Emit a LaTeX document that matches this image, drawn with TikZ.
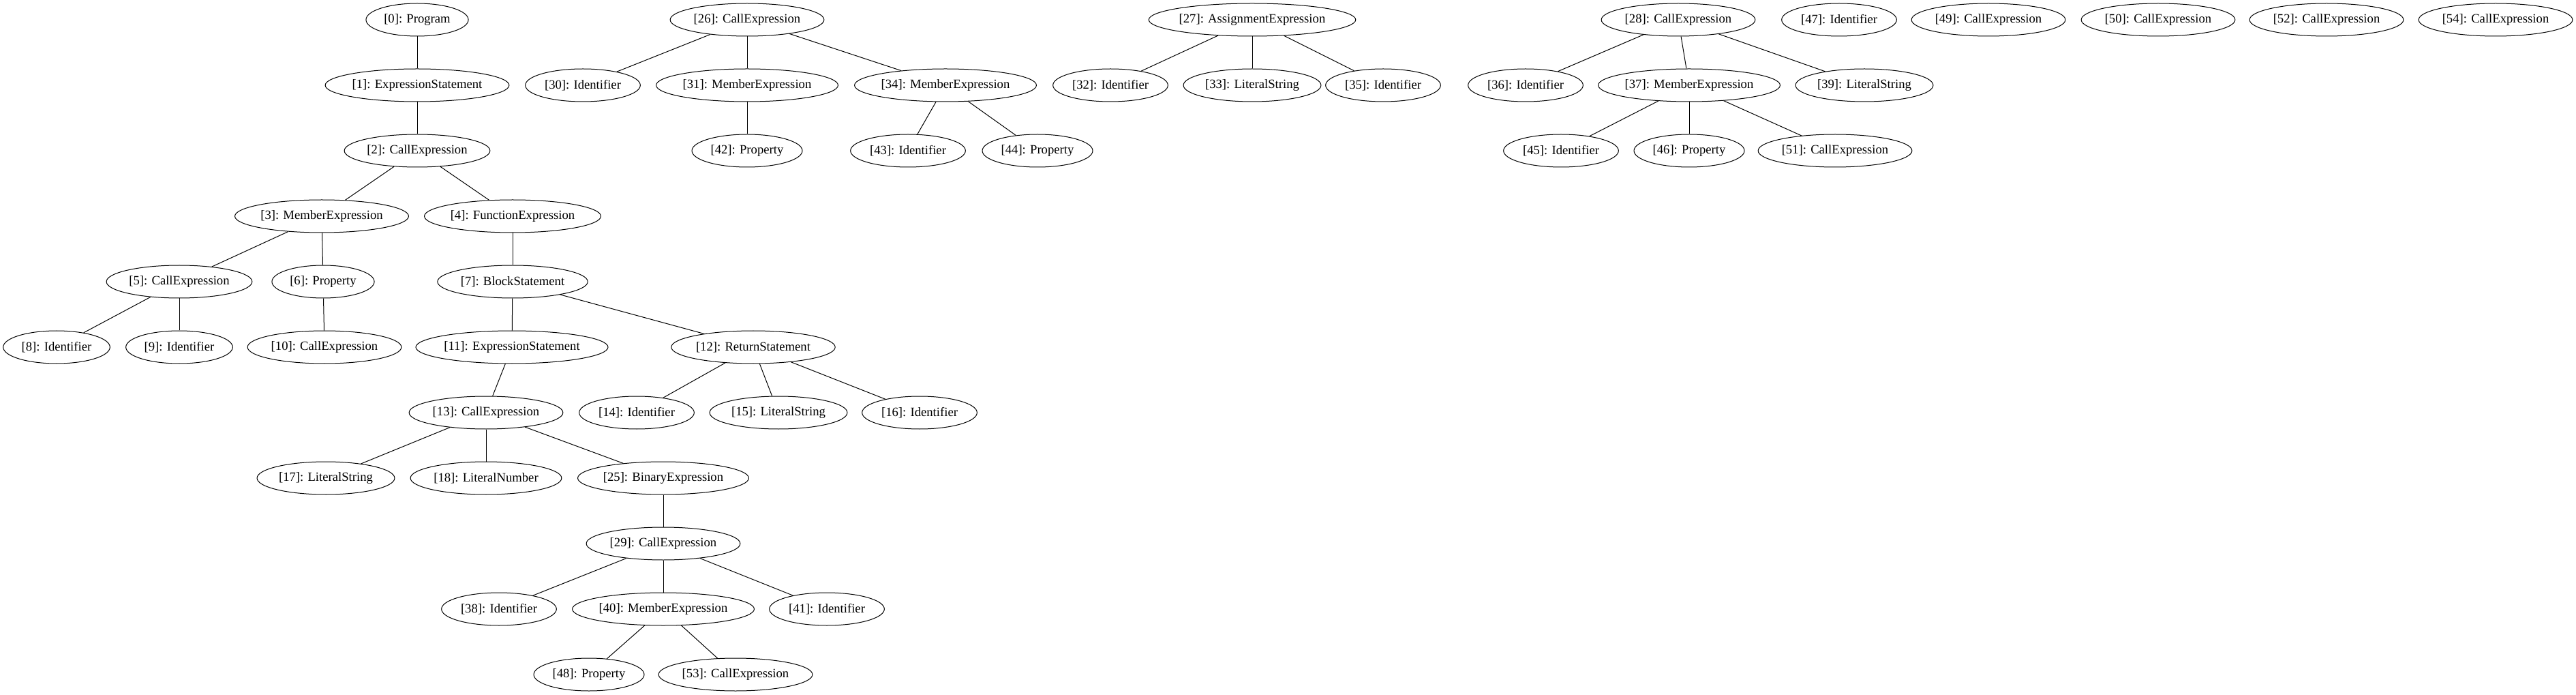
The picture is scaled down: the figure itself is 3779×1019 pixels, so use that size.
\documentclass[tikz,border=0pt]{standalone}
\usepackage{fontspec}
\setmainfont{Liberation Serif}
\usepackage{tikz}
\usetikzlibrary{shapes.geometric}

\begin{document}
\begin{tikzpicture}[x=0.75pt,y=0.75pt,yscale=-1,
  ast/.style={draw, ellipse, line width=0.75pt, inner sep=0pt, minimum height=36pt, minimum width=#1,
    font=\fontsize{14pt}{16pt}\selectfont},
  edge/.style={line width=0.75pt}]
\useasboundingbox (0,0) rectangle (3779,1019);

% Tree of [0]
\node[ast=112.6pt] (n0) at (612,29) {[0]: Program};
\node[ast=202.2pt] (n1) at (612,125) {[1]: ExpressionStatement};
\node[ast=160.3pt] (n2) at (612,221) {[2]: CallExpression};
\node[ast=191.2pt] (n3) at (472,317) {[3]: MemberExpression};
\node[ast=194.2pt] (n4) at (752,317) {[4]: FunctionExpression};
\node[ast=160.3pt] (n5) at (263,413) {[5]: CallExpression};
\node[ast=112.6pt] (n6) at (474,413) {[6]: Property};
\node[ast=165.3pt] (n7) at (752,413) {[7]: BlockStatement};
\node[ast=117.5pt] (n8) at (83,509) {[8]: Identifier};
\node[ast=117.5pt] (n9) at (263,509) {[9]: Identifier};
\node[ast=169.3pt] (n10) at (476,509) {[10]: CallExpression};
\node[ast=211.1pt] (n11) at (751,509) {[11]: ExpressionStatement};
\node[ast=180.3pt] (n12) at (1105,509) {[12]: ReturnStatement};
\node[ast=169.3pt] (n13) at (713,605) {[13]: CallExpression};
\node[ast=126.5pt] (n14) at (934,605) {[14]: Identifier};
\node[ast=151.4pt] (n15) at (1142,605) {[15]: LiteralString};
\node[ast=126.5pt] (n16) at (1349,605) {[16]: Identifier};
\node[ast=151.4pt] (n17) at (478,701) {[17]: LiteralString};
\node[ast=166.3pt] (n18) at (713,701) {[18]: LiteralNumber};
\node[ast=188.2pt] (n25) at (973,701) {[25]: BinaryExpression};
\node[ast=169.3pt] (n29) at (973,797) {[29]: CallExpression};
\node[ast=126.5pt] (n38) at (732,893) {[38]: Identifier};
\node[ast=200.1pt] (n40) at (973,893) {[40]: MemberExpression};
\node[ast=126.5pt] (n41) at (1213,893) {[41]: Identifier};
\node[ast=121.5pt] (n48) at (864,989) {[48]: Property};
\node[ast=169.3pt] (n53) at (1079,989) {[53]: CallExpression};

% Tree of [26]
\node[ast=169.3pt] (n26) at (1096,29) {[26]: CallExpression};
\node[ast=126.5pt] (n30) at (855,125) {[30]: Identifier};
\node[ast=200.1pt] (n31) at (1096,125) {[31]: MemberExpression};
\node[ast=200.1pt] (n34) at (1387,125) {[34]: MemberExpression};
\node[ast=121.5pt] (n42) at (1096,221) {[42]: Property};
\node[ast=126.5pt] (n43) at (1332,221) {[43]: Identifier};
\node[ast=121.5pt] (n44) at (1522,221) {[44]: Property};

% Tree of [27]
\node[ast=225.1pt] (n27) at (1837,29) {[27]: AssignmentExpression};
\node[ast=126.5pt] (n32) at (1629,125) {[32]: Identifier};
\node[ast=151.4pt] (n33) at (1837,125) {[33]: LiteralString};
\node[ast=126.5pt] (n35) at (2029,125) {[35]: Identifier};

% Tree of [28]
\node[ast=169.3pt] (n28) at (2462,29) {[28]: CallExpression};
\node[ast=126.5pt] (n36) at (2238,125) {[36]: Identifier};
\node[ast=200.1pt] (n37) at (2478,125) {[37]: MemberExpression};
\node[ast=151.4pt] (n39) at (2735,125) {[39]: LiteralString};
\node[ast=126.5pt] (n45) at (2290,221) {[45]: Identifier};
\node[ast=121.5pt] (n46) at (2478,221) {[46]: Property};
\node[ast=169.3pt] (n51) at (2692,221) {[51]: CallExpression};

% Single nodes
\node[ast=126.5pt] (n47) at (2698,29) {[47]: Identifier};
\node[ast=169.3pt] (n49) at (2917,29) {[49]: CallExpression};
\node[ast=169.3pt] (n50) at (3166,29) {[50]: CallExpression};
\node[ast=169.3pt] (n52) at (3413,29) {[52]: CallExpression};
\node[ast=169.3pt] (n54) at (3661,29) {[54]: CallExpression};

% Edges
\draw[edge] (n0) -- (n1);
\draw[edge] (n1) -- (n2);
\draw[edge] (n2) -- (n3);
\draw[edge] (n2) -- (n4);
\draw[edge] (n3) -- (n5);
\draw[edge] (n3) -- (n6);
\draw[edge] (n4) -- (n7);
\draw[edge] (n5) -- (n8);
\draw[edge] (n5) -- (n9);
\draw[edge] (n6) -- (n10);
\draw[edge] (n7) -- (n11);
\draw[edge] (n7) -- (n12);
\draw[edge] (n11) -- (n13);
\draw[edge] (n12) -- (n14);
\draw[edge] (n12) -- (n15);
\draw[edge] (n12) -- (n16);
\draw[edge] (n13) -- (n17);
\draw[edge] (n13) -- (n18);
\draw[edge] (n13) -- (n25);
\draw[edge] (n25) -- (n29);
\draw[edge] (n29) -- (n38);
\draw[edge] (n29) -- (n40);
\draw[edge] (n29) -- (n41);
\draw[edge] (n40) -- (n48);
\draw[edge] (n40) -- (n53);
\draw[edge] (n26) -- (n30);
\draw[edge] (n26) -- (n31);
\draw[edge] (n26) -- (n34);
\draw[edge] (n31) -- (n42);
\draw[edge] (n34) -- (n43);
\draw[edge] (n34) -- (n44);
\draw[edge] (n27) -- (n32);
\draw[edge] (n27) -- (n33);
\draw[edge] (n27) -- (n35);
\draw[edge] (n28) -- (n36);
\draw[edge] (n28) -- (n37);
\draw[edge] (n28) -- (n39);
\draw[edge] (n37) -- (n45);
\draw[edge] (n37) -- (n46);
\draw[edge] (n37) -- (n51);

\end{tikzpicture}
\end{document}
